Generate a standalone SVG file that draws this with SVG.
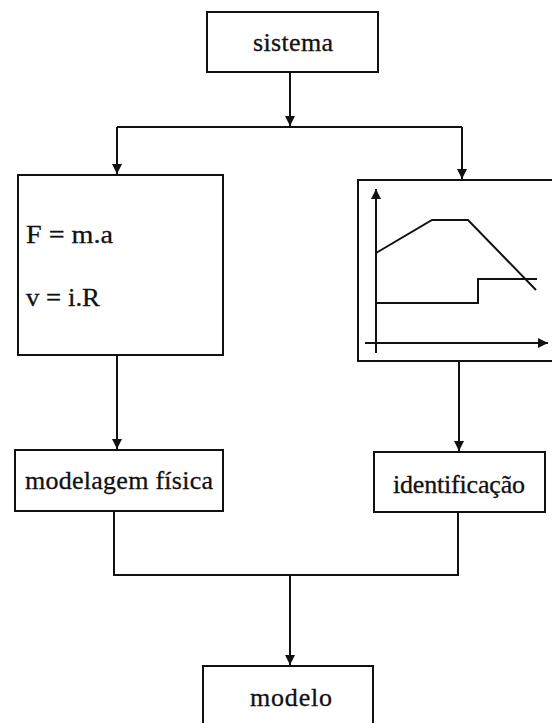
<svg xmlns="http://www.w3.org/2000/svg" width="552" height="723" viewBox="0 0 552 723">
<defs>
<marker id="ah" viewBox="0 0 10 10" refX="10" refY="5" markerWidth="10" markerHeight="10" markerUnits="userSpaceOnUse" orient="auto">
<path d="M0,0 L10,5 L0,10 Z" fill="#111"/>
</marker>
</defs>
<style>
.box{fill:#fff;stroke:#111;stroke-width:2}
.ln{fill:none;stroke:#111;stroke-width:2}
.t{font-family:"Liberation Serif","Times New Roman",serif;font-size:26px;fill:#111;stroke:#111;stroke-width:0.3}
</style>
<rect width="552" height="723" fill="#fff"/>
<g id="connectors">
<path class="ln" d="M290,72 V126" marker-end="url(#ah)"/>
<path class="ln" d="M117,127 H462"/>
<path class="ln" d="M117,127 V174" marker-end="url(#ah)"/>
<path class="ln" d="M462,127 V179" marker-end="url(#ah)"/>
<path class="ln" d="M117,355 V449" marker-end="url(#ah)"/>
<path class="ln" d="M459,361 V451" marker-end="url(#ah)"/>
<path class="ln" d="M114,511 V575 H458 V512"/>
<path class="ln" d="M290,575 V665" marker-end="url(#ah)"/>
</g>
<g id="sistema">
<rect class="box" x="207" y="12" width="171" height="60"/>
<text class="t" x="293" y="51" text-anchor="middle" textLength="80">sistema</text>
</g>
<g id="equacoes">
<rect class="box" x="18" y="175" width="205" height="180"/>
<text class="t" x="26" y="243" textLength="87" lengthAdjust="spacingAndGlyphs">F = m.a</text>
<text class="t" x="26" y="306" textLength="74" lengthAdjust="spacingAndGlyphs">v = i.R</text>
</g>
<g id="grafico">
<rect class="box" x="358" y="180" width="200" height="181"/>
<path class="ln" d="M376,353 V189" marker-end="url(#ah)"/>
<path class="ln" d="M365,343 H548" marker-end="url(#ah)"/>
<path class="ln" d="M376,253 L432,220 L468,220 L536,290"/>
<path class="ln" d="M376,303 H478 V279 H537"/>
</g>
<g id="modelagem">
<rect class="box" x="15" y="450" width="208" height="61"/>
<text class="t" x="119" y="489" text-anchor="middle" textLength="188">modelagem física</text>
</g>
<g id="identificacao">
<rect class="box" x="374" y="452" width="171" height="60"/>
<text class="t" x="459" y="493" text-anchor="middle" textLength="132">identificação</text>
</g>
<g id="modelo">
<rect class="box" x="203" y="666" width="170" height="70"/>
<text class="t" x="291" y="706" text-anchor="middle" textLength="82">modelo</text>
</g>
</svg>
